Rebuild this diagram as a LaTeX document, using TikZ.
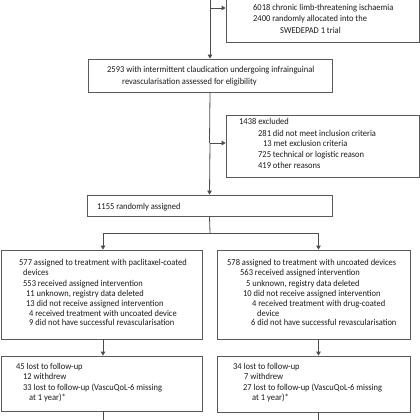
\documentclass[tikz,border=0pt]{standalone}
\usepackage{fontspec}
\setmainfont[FakeStretch=0.94]{Carlito}
\usetikzlibrary{arrows.meta}
\begin{document}
\begin{tikzpicture}[x=1pt,y=-1pt,
  box/.style={draw=black!65, line width=0.8pt, inner sep=0pt, minimum width=#1},
  txt/.style={anchor=base west, inner sep=0pt, text=black!90, font=\fontsize{9}{10}\selectfont},
  line/.style={draw=black!70, line width=0.8pt},
  arr/.style={line, -{Triangle[length=4pt,width=4.5pt]}}]
\useasboundingbox (0,0) rectangle (420,420);
\clip (0,0) rectangle (420,420);
% boxes (centre, width, height)
\node[box=193pt, minimum height=68pt] (top) at (322.5,8) {};
\node[box=244pt, minimum height=33pt] (elig) at (210,75.5) {};
\node[box=193pt, minimum height=62pt] (excl) at (322.5,146) {};
\node[box=245pt, minimum height=21pt] (rand) at (209.5,205.5) {};
\node[box=201pt, minimum height=89pt] (L) at (101.5,294.5) {};
\node[box=193pt, minimum height=89pt] (R) at (313.5,294.5) {};
\node[box=201pt, minimum height=55pt] (LF) at (101.5,383.5) {};
\node[box=193pt, minimum height=56pt] (RF) at (313.5,384) {};
% texts
\node[txt] (t1) at (253,11) {6018 chronic limb-threatening ischaemia};
\node[txt] (t2) at (253,22) {2400 randomly allocated into the};
\node[txt] (t3) at (280,34) {SWEDEPAD 1 trial};
\node[txt] (e1) at (107,73) {2593 with intermittent claudication undergoing infrainguinal};
\node[txt] (e2) at (122,84) {revascularisation assessed for eligibility};
\node[txt] (x1) at (239,124) {1438 excluded};
\node[txt] (x2) at (258,136) {281 did not meet inclusion criteria};
\node[txt] (x3) at (263,146) {13 met exclusion criteria};
\node[txt] (x4) at (258,157) {725 technical or logistic reason};
\node[txt] (x5) at (258,168) {419 other reasons};
\node[txt] (r1) at (97,209) {1155 randomly assigned};
\node[txt] (l1) at (19,265) {577 assigned to treatment with paclitaxel-coated};
\node[txt] (l2) at (23,275) {devices};
\node[txt] (l3) at (23,286) {553 received assigned intervention};
\node[txt] (l4) at (26,296) {11 unknown, registry data deleted};
\node[txt] (l5) at (26,306) {13 did not receive assigned intervention};
\node[txt] (l6) at (29,316) {4 received treatment with uncoated device};
\node[txt] (l7) at (29,325) {9 did not have successful revascularisation};
\node[txt] (m1) at (227,265) {578 assigned to treatment with uncoated devices};
\node[txt] (m2) at (240,275) {563 received assigned intervention};
\node[txt] (m3) at (246,286) {5 unknown, registry data deleted};
\node[txt] (m4) at (243,296) {10 did not receive assigned intervention};
\node[txt] (m5) at (252,306) {4 received treatment with drug-coated};
\node[txt] (m6) at (257,316) {device};
\node[txt] (m7) at (251,325) {6 did not have successful revascularisation};
\node[txt] (f1) at (16,369) {45 lost to follow-up};
\node[txt] (f2) at (23,379) {12 withdrew};
\node[txt] (f3) at (23,390) {33 lost to follow-up (VascuQoL-6 missing};
\node[txt] (f4) at (29,400) {at 1 year)*};
\node[txt] (g1) at (233,369) {34 lost to follow-up};
\node[txt] (g2) at (244,379) {7 withdrew};
\node[txt] (g3) at (243,390) {27 lost to follow-up (VascuQoL-6 missing};
\node[txt] (g4) at (252,400) {at 1 year)*};
% connectors
\coordinate (in) at (210,0);
\coordinate (ex) at (210,143);
\coordinate (split) at (210,233);
\coordinate (lx) at (103,233);
\coordinate (rx) at (318.5,233);
\coordinate (lout) at (103,420);
\coordinate (rout) at (318.5,420);
\draw[arr] (in) -- (elig.north);
\draw[arr] (in |- top.west) -- (top.west);
\draw[line] (elig.south) -- (rand.north |- ex);
\draw[arr] (ex) -- (ex -| excl.west);
\draw[arr] (ex) -- (rand.north);
\draw[line] (rand.south) -- (split);
\draw[line] (lx) -- (rx);
\draw[arr] (lx) -- (lx |- L.north);
\draw[arr] (rx) -- (rx |- R.north);
\draw[arr] (lx |- L.south) -- (lx |- LF.north);
\draw[arr] (rx |- R.south) -- (rx |- RF.north);
\draw[line] (lx |- LF.south) -- (lout);
\draw[line] (rx |- RF.south) -- (rout);
\end{tikzpicture}
\end{document}
